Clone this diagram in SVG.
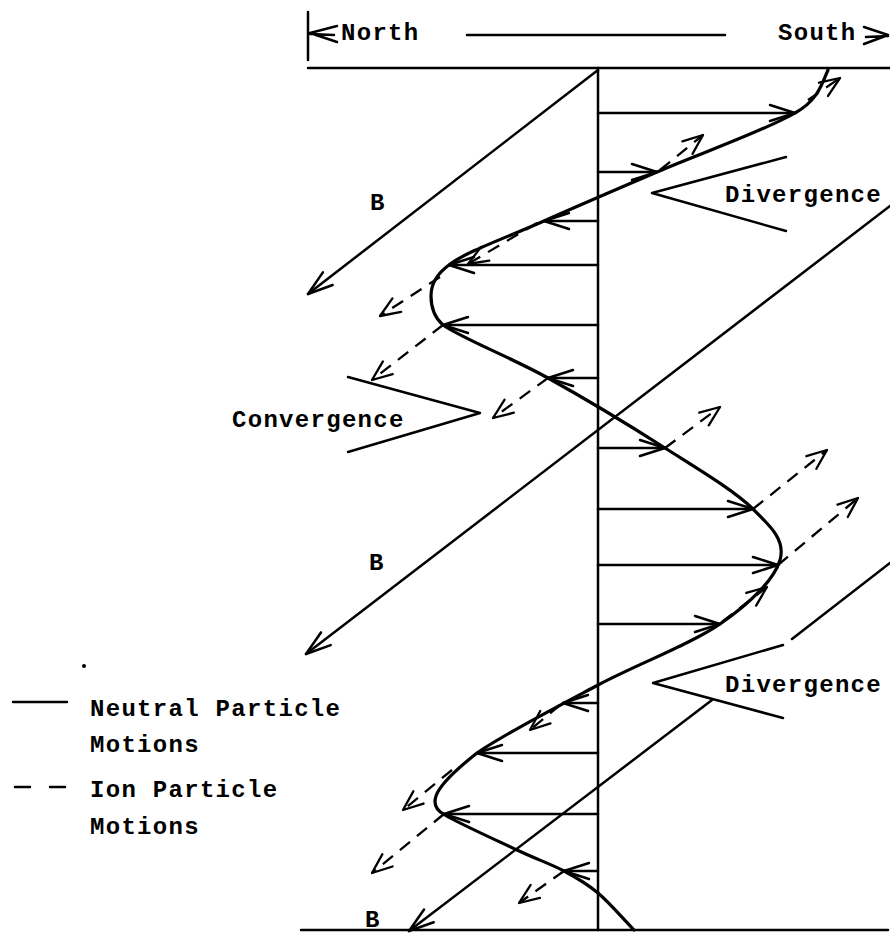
<svg xmlns="http://www.w3.org/2000/svg" width="890" height="935" viewBox="0 0 890 935">
<style>
.ln{fill:none;stroke:#000;stroke-width:2.5;stroke-linecap:round;stroke-linejoin:round}
.cv{fill:none;stroke:#000;stroke-width:3.2;stroke-linecap:round;stroke-linejoin:round}
.ds{fill:none;stroke:#000;stroke-width:2.3;stroke-dasharray:13 9;stroke-linecap:butt}
.ar{marker-end:url(#ah)}
.ai{marker-end:url(#ai)}
.tx{font-family:"Liberation Mono","DejaVu Sans Mono",monospace;font-size:24px;font-weight:bold;letter-spacing:1.3px;fill:#000}
</style>
<defs>
<marker id="ah" markerUnits="userSpaceOnUse" orient="auto" viewBox="-30 -15 35 30" markerWidth="35" markerHeight="30" refX="0" refY="0">
<path d="M-25,-8 L0,0 L-25,8" fill="none" stroke="#000" stroke-width="2.5" stroke-linecap="round" stroke-linejoin="round"/>
</marker>
<marker id="ai" markerUnits="userSpaceOnUse" orient="auto" viewBox="-30 -15 35 30" markerWidth="35" markerHeight="30" refX="0" refY="0">
<path d="M-20,-8 L0,0 L-20,8" fill="none" stroke="#000" stroke-width="2.3" stroke-linecap="round" stroke-linejoin="round"/>
</marker>
</defs>

<g id="header">
<line class="ln" x1="308" y1="12" x2="308" y2="60"/>
<path class="ln" d="M337,26 L310,33 L337,42 M310,34 L334,35"/>
<text class="tx" x="341" y="40">North</text>
<line class="ln" x1="467" y1="35" x2="725" y2="35"/>
<text class="tx" x="778" y="40">South</text>
<path class="ln" d="M864,27 L888,35 L864,44 M866,37 L888,36"/>
<line class="ln" x1="308" y1="68" x2="890" y2="68"/>
</g>

<g id="axis">
<line class="ln" x1="598" y1="68" x2="598" y2="930"/>
<line class="ln" x1="301" y1="930" x2="888" y2="930"/>
</g>

<g id="field-lines">
<line class="ln ar" x1="598" y1="70" x2="308" y2="294"/>
<line class="ln ar" x1="890" y1="206" x2="306" y2="654"/>
<line class="ln" x1="890" y1="563" x2="792" y2="639"/>
<line class="ln ar" x1="712" y1="700" x2="409" y2="931"/>
</g>

<g id="neutral-profile">
<path class="cv" d="M828,70 C822,84 818,100 795,113 C766.5,130 698.8,154 657,172 C615.2,190 578.7,205.5 544,221 C509.3,236.5 465,252 449,265 C438,273 431,284 431,296 C431,308 435,318 443,325 C462.3,338.5 511,357.5 548,378 C585,398.5 630.8,426.2 665,448 C699.2,469.8 733.8,490.3 753,509 C772.2,527.7 785.5,540.8 780,560 C774.5,579.2 750.3,603.2 720,624 C689.7,644.8 638.5,663.5 598,685 C557.5,706.5 503.8,734.3 477,753 C458,768 440,784 436,796 C433,805 437,811 445,815 C460,824 497,840.5 517,850 C537,859.5 550.5,863.8 564,871 C577.5,878.2 586.3,883.2 598,893 C609.7,902.8 622,917.7 634,930"/>
</g>

<g id="neutral-arrows">
<line class="ln ar" x1="598" y1="113" x2="795" y2="113"/>
<line class="ln ar" x1="598" y1="172" x2="657" y2="172"/>
<line class="ln ar" x1="598" y1="221" x2="544" y2="221"/>
<line class="ln ar" x1="598" y1="265" x2="449" y2="265"/>
<line class="ln ar" x1="598" y1="325" x2="443" y2="325"/>
<line class="ln ar" x1="598" y1="378" x2="548" y2="378"/>
<line class="ln ar" x1="598" y1="448" x2="665" y2="448"/>
<line class="ln ar" x1="598" y1="509" x2="753" y2="509"/>
<line class="ln ar" x1="598" y1="565" x2="778" y2="565"/>
<line class="ln ar" x1="598" y1="624" x2="720" y2="624"/>
<line class="ln ar" x1="598" y1="703" x2="563" y2="703"/>
<line class="ln ar" x1="598" y1="753" x2="477" y2="753"/>
<line class="ln ar" x1="598" y1="814" x2="444" y2="814"/>
<line class="ln ar" x1="598" y1="871" x2="564" y2="871"/>
</g>

<g id="ion-arrows">
<line class="ds ai" x1="808" y1="100" x2="840" y2="78"/>
<line class="ds ai" x1="660" y1="170" x2="703" y2="135"/>
<line class="ds ai" x1="537" y1="223" x2="468" y2="264"/>
<line class="ds ai" x1="440" y1="277" x2="380" y2="316"/>
<line class="ds ai" x1="443" y1="325" x2="372" y2="380"/>
<line class="ds ai" x1="548" y1="378" x2="493" y2="418"/>
<line class="ds ai" x1="665" y1="448" x2="720" y2="407"/>
<line class="ds ai" x1="753" y1="509" x2="827" y2="450"/>
<line class="ds ai" x1="778" y1="565" x2="858" y2="498"/>
<line class="ds ai" x1="722" y1="622" x2="767" y2="587"/>
<line class="ds ai" x1="560" y1="705" x2="530" y2="730"/>
<line class="ds ai" x1="452" y1="770" x2="403" y2="810"/>
<line class="ds ai" x1="444" y1="814" x2="372" y2="873"/>
<line class="ds ai" x1="564" y1="871" x2="519" y2="903"/>
</g>

<g id="divergence-top">
<polyline class="ln" points="786,157 652,193 786,231"/>
<text class="tx" x="725" y="202">Divergence</text>
</g>

<g id="convergence">
<polyline class="ln" points="348,377 480,413 348,452"/>
<text class="tx" x="232" y="427">Convergence</text>
</g>

<g id="divergence-bottom">
<polyline class="ln" points="783,645 653,683 783,718"/>
<text class="tx" x="725" y="692">Divergence</text>
</g>

<g id="b-labels">
<text class="tx" x="370" y="210">B</text>
<text class="tx" x="369" y="570">B</text>
<text class="tx" x="365" y="927">B</text>
</g>

<g id="legend">
<circle cx="84" cy="666" r="2" fill="#000"/>
<line class="ln" x1="13" y1="702" x2="67" y2="702"/>
<text class="tx" x="90" y="716">Neutral Particle</text>
<text class="tx" x="90" y="752">Motions</text>
<line class="ln" x1="15" y1="787" x2="30" y2="787"/>
<line class="ln" x1="50" y1="787" x2="65" y2="787"/>
<text class="tx" x="90" y="797">Ion Particle</text>
<text class="tx" x="90" y="834">Motions</text>
</g>
</svg>
